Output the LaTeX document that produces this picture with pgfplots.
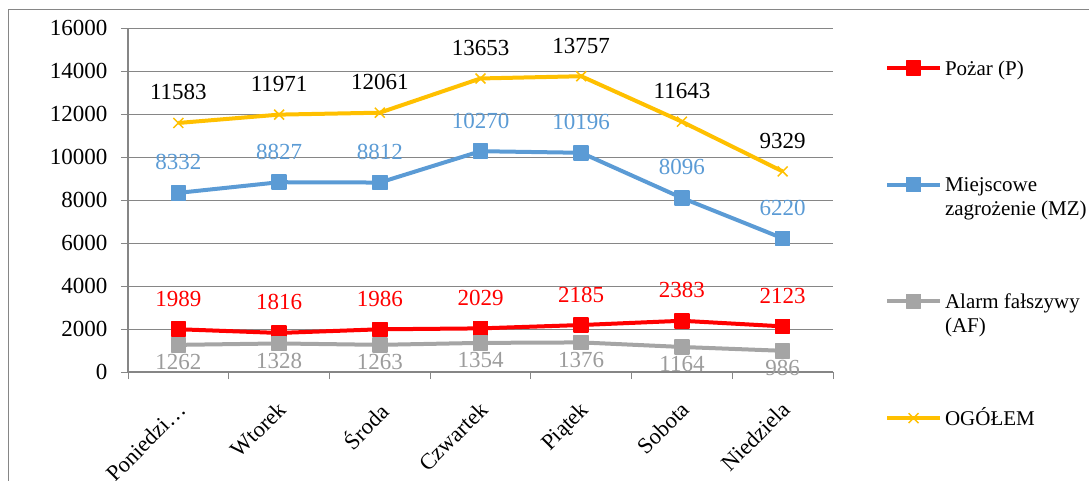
\documentclass[border=0pt]{standalone}
\usepackage{fontspec}
\setmainfont{Liberation Serif}
\usepackage{pgfplots}
\pgfplotsset{compat=1.18}
\definecolor{cP}{HTML}{FF0000}
\definecolor{cMZ}{HTML}{5B9BD5}
\definecolor{cAF}{HTML}{A5A5A5}
\definecolor{cAFtxt}{HTML}{9C9C9C}
\definecolor{cOG}{HTML}{FFC000}
\definecolor{gridc}{HTML}{868686}

\begin{document}
\begin{tikzpicture}[x=1pt,y=1pt]
\useasboundingbox (0,0) rectangle (1089,480);
\draw[gridc,line width=1pt] (8,-5) -- (8,470) -- (1100,470);
\begin{axis}[
  at={(128pt,108pt)},anchor=south west,scale only axis,
  width=705pt,height=344pt,
  xmin=-0.5,xmax=6.5,ymin=0,ymax=16000,
  xtick={0,...,6},
  xticklabels={Poniedzi…,Wtorek,Środa,Czwartek,Piątek,Sobota,Niedziela},
  minor xtick={-0.5,0.5,...,6.5},
  ytick={0,2000,...,16000},
  scaled y ticks=false,
  axis x line*=bottom,axis y line*=left,
  axis line style={gridc,line width=1.2pt,-},
  tick align=outside,
  major tick length=7pt,minor tick length=7pt,
  major x tick style={draw=none},
  minor x tick style={gridc,line width=1pt},
  ytick style={gridc,line width=1pt},
  ymajorgrids,grid style={gridc,line width=1pt},
  xticklabel shift=10pt,
  x tick label style={rotate=45,anchor=north east,xshift=-8.5pt,yshift=-5pt,
    font=\fontsize{22.5}{27}\selectfont,inner sep=1pt},
  y tick label style={font=\fontsize{23}{27}\selectfont,xshift=-10pt},
  /pgf/number format/.cd,1000 sep={},assume math mode=true,/pgfplots/.cd,
  legend style={at={(1.0738,0.9244)},anchor=north west,draw=none,fill=none,
    inner sep=0pt,outer sep=0pt,row sep=0pt,column sep=3pt,
    font=\fontsize{21}{24}\selectfont,
    nodes={inner sep=0pt,anchor=base west,text height=21pt,text depth=95.7pt}},
  legend image code/.code={\draw[mark repeat=2,mark phase=2]
    plot coordinates {(0pt,7pt)(26.5pt,7pt)(53pt,7pt)};},
  every axis plot/.append style={line width=4pt},
  clip=false]

\addplot[cP,mark=square*,mark size=7pt,mark options={solid,line width=1.5pt,line join=round},
  nodes near coords,every node near coord/.append style={text=cP,anchor=base,yshift=23pt,
  inner sep=0pt,font=\fontsize{23}{27}\selectfont}]
  coordinates {(0,1989)(1,1816)(2,1986)(3,2029)(4,2185)(5,2383)(6,2123)};
\addlegendentry{Pożar (P)}

\addplot[cMZ,mark=square*,mark size=7pt,mark options={solid,line width=1.5pt,line join=round},
  nodes near coords,every node near coord/.append style={text=cMZ,anchor=base,yshift=23pt,
  inner sep=0pt,font=\fontsize{23}{27}\selectfont}]
  coordinates {(0,8332)(1,8827)(2,8812)(3,10270)(4,10196)(5,8096)(6,6220)};
\addlegendentry{\begin{tabular}[t]{@{}l@{}}Miejscowe\\zagrożenie (MZ)\end{tabular}}

\addplot[cAF,mark=square*,mark size=7pt,mark options={solid,line width=1.5pt,line join=round},
  nodes near coords,every node near coord/.append style={text=cAFtxt,anchor=base,yshift=-25pt,
  inner sep=0pt,font=\fontsize{23}{27}\selectfont}]
  coordinates {(0,1262)(1,1328)(2,1263)(3,1354)(4,1376)(5,1164)(6,986)};
\addlegendentry{\begin{tabular}[t]{@{}l@{}}Alarm fałszywy\\(AF)\end{tabular}}

\addplot[cOG,mark=x,mark size=7pt,mark options={solid,line width=1.5pt},
  nodes near coords,every node near coord/.append style={text=black,anchor=base,yshift=23pt,
  inner sep=0pt,font=\fontsize{23}{27}\selectfont}]
  coordinates {(0,11583)(1,11971)(2,12061)(3,13653)(4,13757)(5,11643)(6,9329)};
\addlegendentry{OGÓŁEM}
\end{axis}
\end{tikzpicture}
\end{document}
